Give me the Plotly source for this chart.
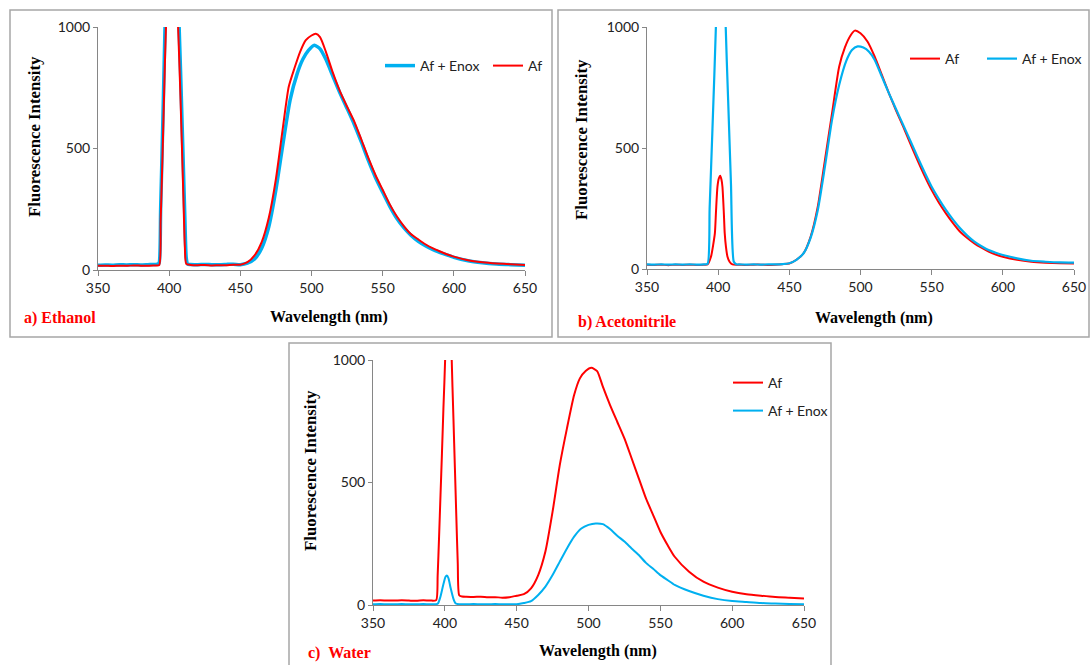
import plotly.graph_objects as go

W, H = 1091, 665
RED = "#FF0000"
BLUE = "#00B0F0"
AXC = "#868686"

# ---------------- data ----------------
# a) Ethanol
a_af_x = [350, 355, 360, 365, 370, 375, 380, 385, 390, 393, 394, 395, 396, 397, 398, 402, 406, 407, 408, 409, 410, 411, 412,
          415, 420, 425, 430, 435, 440, 445, 450, 455, 460, 465, 470, 475, 480, 484, 488, 492, 496, 500, 503, 506, 510, 515,
          520, 525, 530, 535, 540, 545, 550, 555, 560, 565, 570, 575, 580, 585, 590, 595, 600, 610, 620, 630, 640, 650]
a_af_y = [17, 18, 16, 18, 17, 19, 18, 17, 19, 20, 200, 400, 620, 850, 1050, 2000, 1050, 880, 700, 500, 300, 100, 25,
          21, 20, 21, 19, 20, 20, 22, 22, 32, 60, 115, 215, 375, 590, 754, 830, 898, 946, 965, 972, 958, 900, 812,
          735, 672, 612, 537, 460, 390, 330, 270, 220, 180, 147, 126, 106, 90, 77, 65, 55, 40, 32, 27, 24, 21]
a_mix_x = [350, 355, 360, 365, 370, 375, 380, 385, 390, 392, 393, 394, 395, 396, 397, 398, 402, 407, 408, 409, 410, 411, 412, 413,
           415, 420, 425, 430, 435, 440, 445, 450, 455, 460, 465, 470, 475, 480, 485, 490, 494, 498, 502, 506, 510, 515,
           520, 525, 530, 535, 540, 545, 550, 555, 560, 565, 570, 575, 580, 585, 590, 595, 600, 610, 620, 630, 640, 650]
a_mix_y = [20, 21, 20, 22, 21, 22, 21, 22, 23, 24, 30, 250, 480, 720, 980, 1200, 2000, 1000, 820, 620, 420, 220, 50, 24,
           23, 22, 23, 22, 22, 23, 24, 22, 28, 45, 90, 178, 330, 521, 700, 809, 868, 905, 925, 910, 868, 798,
           728, 665, 600, 527, 450, 380, 320, 262, 212, 173, 142, 118, 100, 85, 73, 62, 52, 38, 30, 25, 22, 20]

# b) Acetonitrile
b_af_x = [350, 355, 360, 365, 370, 375, 380, 385, 390, 392.5, 395, 396.5, 397.7, 398.5, 399.5, 400.5, 401.4, 402.3, 403, 404, 404.6,
          405.5, 406.5, 408, 410, 415, 420, 425, 430, 435, 440, 445, 450, 455, 460, 465, 470, 475, 480, 485, 489, 493, 496,
          500, 505, 510, 515, 520, 525, 530, 535, 540, 545, 550, 555, 560, 565, 570, 575, 580, 585, 590, 595, 600, 610,
          620, 630, 640, 650]
b_af_y = [18, 17, 18, 16, 18, 17, 18, 17, 18, 19, 52, 100, 148, 240, 340, 375, 385, 370, 340, 230, 148,
          90, 52, 30, 19, 18, 17, 18, 18, 17, 18, 20, 23, 38, 65, 134, 258, 450, 643, 836, 915, 965, 985,
          974, 939, 877, 802, 726, 655, 588, 518, 450, 385, 326, 275, 230, 190, 154, 128, 106, 88, 72, 60, 51, 38,
          30, 26, 24, 23]
b_mix_x = [350, 355, 360, 365, 370, 375, 380, 385, 390, 392.6, 394, 396, 398.4, 402, 405.3, 407, 409, 411, 413,
           415, 420, 425, 430, 435, 440, 445, 450, 455, 460, 465, 470, 475, 480, 485, 490, 494, 498, 502, 506, 510,
           515, 520, 525, 530, 535, 540, 545, 550, 555, 560, 565, 570, 575, 580, 585, 590, 595, 600, 610, 620, 630,
           640, 650]
b_mix_y = [19, 18, 19, 18, 19, 18, 19, 18, 19, 22, 250, 580, 1000, 2000, 1000, 700, 350, 30, 19,
           19, 18, 19, 18, 19, 19, 20, 24, 38, 65, 130, 244, 423, 616, 760, 860, 905, 920, 915, 898, 864,
           795, 726, 660, 595, 530, 464, 400, 340, 290, 244, 204, 168, 138, 113, 94, 78, 67, 58, 44, 34, 30,
           27, 26]

# c) Water
c_af_x = [350, 355, 360, 365, 370, 375, 380, 385, 390, 394, 395, 396, 397, 398, 399, 400.2, 402.5, 404.8, 406, 407, 408, 409,
          410, 412, 415, 420, 425, 430, 435, 440, 445, 450, 455, 460, 465, 470, 475, 480, 485, 490, 494, 498, 502, 506,
          510, 515, 520, 525, 530, 535, 540, 545, 550, 555, 560, 570, 580, 590, 600, 610, 620, 630, 640, 650]
c_af_y = [18, 19, 18, 18, 19, 18, 17, 19, 18, 20, 120, 280, 450, 620, 800, 1000, 1800, 1000, 760, 560, 360, 170,
          40, 35, 34, 33, 34, 32, 32, 30, 32, 38, 44, 68, 122, 218, 381, 571, 721, 857, 925, 955, 968, 955,
          891, 816, 748, 680, 599, 517, 435, 367, 299, 245, 197, 136, 95, 71, 54, 44, 38, 33, 30, 27]
c_mix_x = [350, 355, 360, 365, 370, 375, 380, 385, 390, 395, 397, 399, 400.5, 401.4, 402.5, 404, 406, 407.6, 410,
           415, 420, 425, 430, 435, 440, 445, 450, 455, 460, 465, 470, 475, 480, 485, 490, 495, 500, 505, 510,
           515, 520, 525, 530, 535, 540, 545, 550, 555, 560, 570, 580, 590, 600, 610, 620, 630, 640, 650]
c_mix_y = [3, 4, 3, 3, 4, 3, 3, 4, 3, 5, 35, 85, 115, 120, 110, 70, 25, 6, 3,
           3, 4, 3, 3, 4, 3, 3, 3, 8, 16, 41, 75, 122, 177, 231, 279, 312, 327, 333, 330,
           310, 283, 259, 231, 204, 172, 148, 122, 102, 82, 57, 38, 24, 16, 12, 8, 6, 4, 3]

x_ticks = [350, 400, 450, 500, 550, 600, 650]
y_ticks = [0, 500, 1000]
panel_labels = ["a) Ethanol", "b) Acetonitrile", "c)  Water"]
x_title = "Wavelength (nm)"
y_title = "Fluorescence Intensity"
name_af = "Af"
name_mix = "Af + Enox"


def px(x):
    return x / W


def py(y):
    return 1 - y / H


fig = go.Figure()


def add(x, y, name, color, width, xa, ya, leg):
    fig.add_trace(go.Scatter(x=x, y=y, name=name, mode="lines", line_shape="spline",
                             line=dict(color=color, width=width, smoothing=0.6),
                             xaxis=xa, yaxis=ya, legend=leg))


# panel a: blue drawn first, red on top
add(a_mix_x, a_mix_y, name_mix, BLUE, 3.5, "x", "y", "legend")
add(a_af_x, a_af_y, name_af, RED, 2, "x", "y", "legend2")
# panel b
add(b_af_x, b_af_y, name_af, RED, 2, "x2", "y2", "legend3")
add(b_mix_x, b_mix_y, name_mix, BLUE, 2.2, "x2", "y2", "legend4")
# panel c
add(c_af_x, c_af_y, name_af, RED, 2, "x3", "y3", "legend5")
add(c_mix_x, c_mix_y, name_mix, BLUE, 2, "x3", "y3", "legend6")

tickfont = dict(family="Lato, Open Sans, sans-serif", size=14, color="#222222")


def xax(dom, anchor):
    return dict(domain=dom, anchor=anchor, range=[350, 650], tickvals=x_ticks, showgrid=False, zeroline=False,
                showline=True, linecolor=AXC, linewidth=1, ticks="outside", ticklen=5, tickcolor=AXC,
                tickfont=tickfont, fixedrange=True, automargin=False)


def yax(dom, anchor):
    return dict(domain=dom, anchor=anchor, range=[0, 1000], tickvals=y_ticks, showgrid=False, zeroline=False,
                showline=True, linecolor=AXC, linewidth=1, ticks="outside", ticklen=4, tickcolor=AXC,
                tickfont=tickfont, fixedrange=True, automargin=False)


legfont = dict(family="Lato, Open Sans, sans-serif", size=14, color="#222222")


def leg(x, y):
    return dict(orientation="h", x=px(x), y=py(y), xanchor="left", yanchor="middle",
                bgcolor="rgba(0,0,0,0)", font=legfont)


fig.update_layout(
    width=W, height=H,
    margin=dict(l=0, r=0, t=0, b=0, pad=0, autoexpand=False),
    paper_bgcolor="white", plot_bgcolor="white",
    xaxis=xax([px(98), px(525)], "y"),
    yaxis=yax([py(270), py(27)], "x"),
    xaxis2=xax([px(647), px(1074)], "y2"),
    yaxis2=yax([py(269), py(27)], "x2"),
    xaxis3=xax([px(373), px(804)], "y3"),
    yaxis3=yax([py(605), py(360)], "x3"),
    legend=leg(380, 66),
    legend2=leg(488, 66),
    legend3=leg(905, 59),
    legend4=leg(982, 59),
    legend5=leg(728, 383),
    legend6=leg(728, 411),
    showlegend=True,
)

# panel frames
frame = dict(type="rect", xref="paper", yref="paper", line=dict(color="#A6A6A6", width=1.5),
             fillcolor="rgba(0,0,0,0)", layer="below")
fig.add_shape(x0=px(10), x1=px(552), y0=py(337), y1=py(10), **frame)
fig.add_shape(x0=px(558), x1=px(1089), y0=py(337), y1=py(10), **frame)
fig.add_shape(x0=px(289), x1=px(831), y0=py(668), y1=py(343), **frame)

serif_b = dict(family="Liberation Serif, Times New Roman, serif", size=16, color="black")
serif_lab = dict(family="Liberation Serif, Times New Roman, serif", size=16, color=RED)

# axis titles
for cx, cy in [(329, 317), (874, 318), (598, 651)]:
    fig.add_annotation(x=px(cx), y=py(cy), xref="paper", yref="paper", text="<b>%s</b>" % x_title,
                       showarrow=False, font=serif_b, xanchor="center", yanchor="middle")
for cx, cy in [(34, 137), (581, 140), (311, 471)]:
    fig.add_annotation(x=px(cx), y=py(cy), xref="paper", yref="paper", text="<b>%s</b>" % y_title,
                       showarrow=False, font=dict(serif_b, size=16.8), textangle=-90,
                       xanchor="center", yanchor="middle")
# panel labels
for (lx, ly), lab in zip([(22, 318), (576, 322), (306, 653)], panel_labels):
    fig.add_annotation(x=px(lx), y=py(ly), xref="paper", yref="paper", text="<b>%s</b>" % lab,
                       showarrow=False, font=serif_lab, xanchor="left", yanchor="middle")

fig.write_html("out.html")
